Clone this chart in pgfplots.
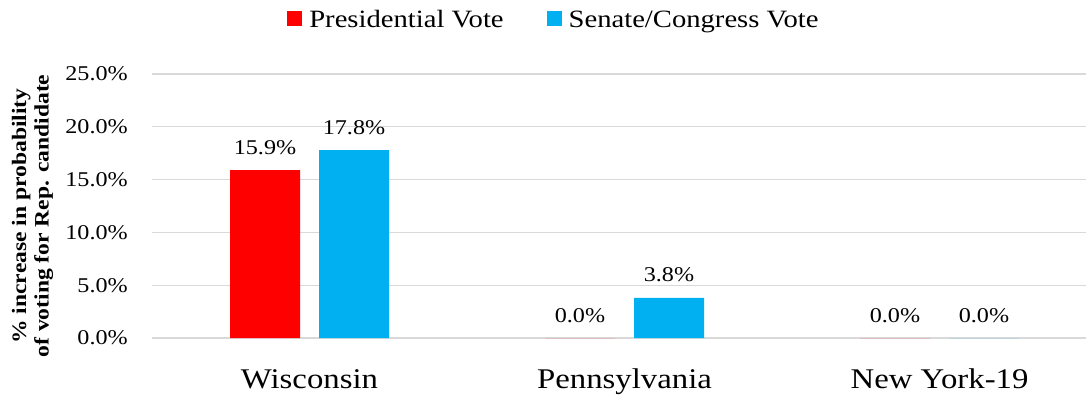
\documentclass[border=0pt]{standalone}
\usepackage{fontspec}
\setmainfont[FakeStretch=1.15]{Liberation Serif}
\usepackage{pgfplots}
\pgfplotsset{compat=1.18}
\definecolor{pres}{RGB}{255,0,0}
\definecolor{sen}{RGB}{0,176,240}
\definecolor{gridc}{RGB}{217,217,217}
\begin{document}
\begin{tikzpicture}
\begin{axis}[
  scale only axis, width=934bp, height=264bp,
  at={(0,0)}, anchor=south west,
  xmin=-0.5, xmax=2.465, ymin=0, ymax=25,
  ytick={0,5,10,15,20,25}, xtick={0,1,2},
  xticklabels={Wisconsin,Pennsylvania,New York-19},
  /pgf/number format/assume math mode=true,
  yticklabel={\pgfmathprintnumber[fixed,fixed zerofill,precision=1]{\tick}\%},
  yticklabel style={anchor=east, inner sep=0pt, xshift=-24bp, font=\fontsize{21bp}{25bp}\selectfont},
  xticklabel style={anchor=base, inner sep=0pt, yshift=-50bp, font=\fontsize{28.5bp}{32bp}\selectfont},
  ymajorgrids, grid style={color=gridc, line width=1.4bp},
  axis line style={draw=none}, major tick length=0pt, tick style={draw=none},
  clip=false,
  nodes near coords={\pgfmathprintnumber[fixed,fixed zerofill,precision=1]{\pgfplotspointmeta}\%},
  every node near coord/.append style={anchor=base, inner sep=0pt, yshift=16bp, font=\fontsize{21bp}{25bp}\selectfont, text=black},
  every axis y label/.style={at={(axis description cs:-0.128,0.462)}, rotate=90, anchor=center, align=center, font=\fontsize{20.5bp}{22.5bp}\selectfont\bfseries},
  ylabel={\% increase in probability\\of voting for Rep. candidate},
  legend columns=2,
  legend style={at={(axis description cs:0.4293,1.2045)}, anchor=center, draw=none, fill=none,
    font=\fontsize{24.9bp}{28bp}\selectfont, inner sep=0pt, outer sep=0pt,
    nodes={inner sep=0pt},
    /tikz/every odd column/.append style={column sep=7bp},
    /tikz/every even column/.append style={column sep=43bp}},
]
\addplot[ybar, bar width=70bp, bar shift=-44.5bp, fill=pres, draw=none,
  every node near coord/.append style={xshift=-44.5bp},
  legend image code/.code={\fill[pres] (0bp,-6bp) rectangle (15bp,9bp);}]
  coordinates {(0,15.9) (1,0) (2,0)};
\addlegendentry{Presidential Vote}
\addplot[ybar, bar width=70bp, bar shift=44.5bp, fill=sen, draw=none,
  every node near coord/.append style={xshift=44.5bp},
  legend image code/.code={\fill[sen] (0bp,-6bp) rectangle (15bp,9bp);}]
  coordinates {(0,17.8) (1,3.8) (2,0)};
\addlegendentry{Senate/Congress Vote}
\end{axis}
\pgfresetboundingbox
\path[use as bounding box] (-152bp,-57bp) rectangle (934bp,338bp);
\end{tikzpicture}
\end{document}
